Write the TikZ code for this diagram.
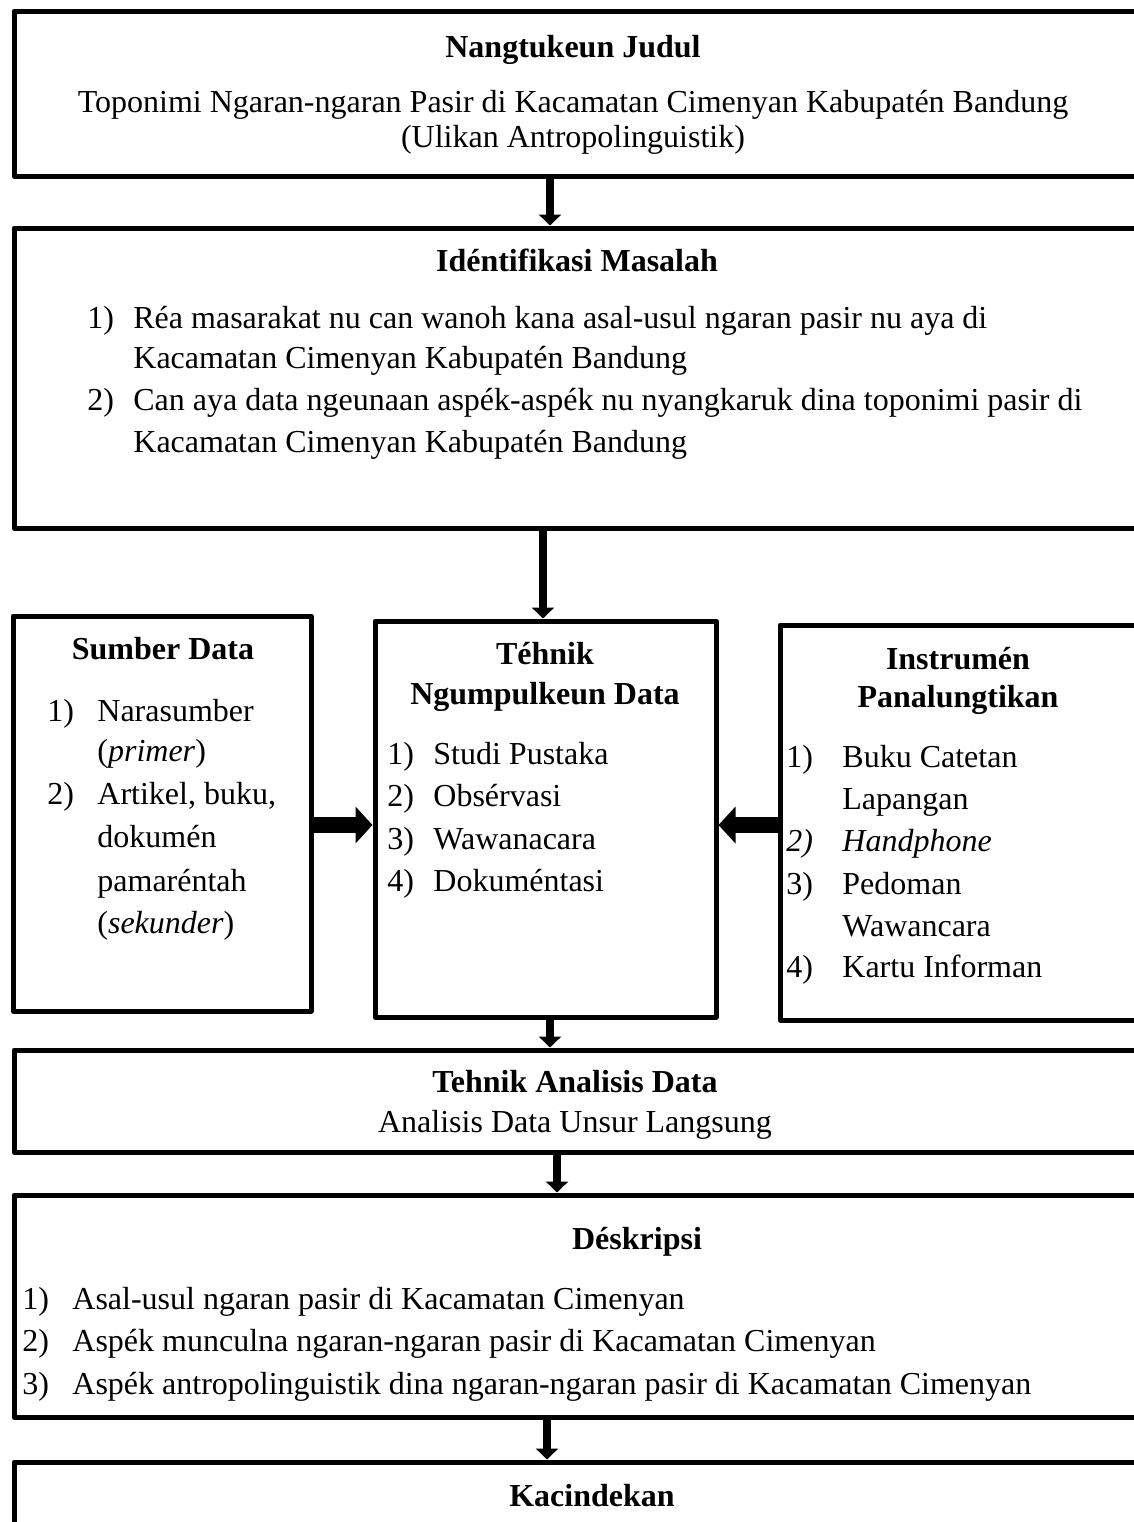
\documentclass[tikz,border=0pt]{standalone}
\usepackage{fontspec}
\setmainfont{Liberation Serif}
\usetikzlibrary{arrows.meta}
\usetikzlibrary{fit}

\begin{document}
\begin{tikzpicture}[x=0.5pt,y=-0.5pt,
    kotak/.style={draw, line width=2.5pt, line join=round, inner sep=0pt},
    teks/.style={anchor=base, inner sep=0pt, font=\fontsize{16}{19}\selectfont},
    jejer/.style={teks, font=\fontsize{16}{19}\selectfont\bfseries},
    kenca/.style={teks, anchor=base west},
    panah/.style={line width=4pt, -{Triangle[width=11pt,length=5.5pt]}},
    panahgede/.style={line width=8pt, -{Triangle[width=18pt,length=8.5pt]}}]
    \useasboundingbox (0,0) rectangle (1134,1522);
    \clip (0,0) rectangle (1134,1522);
    % kotak-kotak
    \node[kotak, fit={(14,11) (1150,176)}] (judul) {};
    \node[kotak, fit={(14,228) (1150,528)}] (masalah) {};
    \node[kotak, fit={(13,616) (311,1011)}] (sumber) {};
    \node[kotak, fit={(375,621) (716,1017)}] (tehnik) {};
    \node[kotak, fit={(780,625) (1150,1020)}] (instrumen) {};
    \node[kotak, fit={(14,1050) (1150,1152)}] (analisis) {};
    \node[kotak, fit={(14,1195) (1150,1417)}] (deskripsi) {};
    \node[kotak, fit={(14,1462) (1150,1560)}] (kacindekan) {};
    % panah
    \draw[panah] (550,0 |- judul.south) -- (550,0 |- masalah.north);
    \draw[panah] (543,0 |- masalah.south) -- (543,0 |- tehnik.north);
    \draw[panahgede] (sumber.east |- 0,825) -- (tehnik.west |- 0,825);
    \draw[panahgede] (instrumen.west |- 0,825) -- (tehnik.east |- 0,825);
    \draw[panah] (550,0 |- tehnik.south) -- (550,0 |- analisis.north);
    \draw[panah] (557,0 |- analisis.south) -- (557,0 |- deskripsi.north);
    \draw[panah] (547,0 |- deskripsi.south) -- (547,0 |- kacindekan.north);
    % Nangtukeun Judul
    \node[jejer] (judul-t) at (573,57) {Nangtukeun Judul};
    \node[teks] (judul-1) at (573,112) {Toponimi Ngaran-ngaran Pasir di Kacamatan Cimenyan Kabupatén Bandung};
    \node[teks] (judul-2) at (573,147) {(Ulikan Antropolinguistik)};
    % Identifikasi Masalah
    \node[jejer] (masalah-t) at (577,271) {Idéntifikasi Masalah};
    \foreach \nomer/\y/\isi in
    {
      1)/328/Réa masarakat nu can wanoh kana asal-usul ngaran pasir nu aya di,
      /368/Kacamatan Cimenyan Kabupatén Bandung,
      2)/410/Can aya data ngeunaan aspék-aspék nu nyangkaruk dina toponimi pasir di,
      /452/Kacamatan Cimenyan Kabupatén Bandung
    }
    {
      \node[kenca] (masalah-n\y) at (87,\y) {\nomer};
      \node[kenca] (masalah-\y) at (133,\y) {\isi};
    };
    % Sumber Data
    \node[jejer] (sumber-t) at (163,659) {Sumber Data};
    \foreach \nomer/\y/\isi in
    {
      1)/721/Narasumber,
      /761/(\textit{primer}),
      2)/804/{Artikel, buku,},
      /847/dokumén,
      /891/pamaréntah,
      /933/(\textit{sekunder})
    }
    {
      \node[kenca] (sumber-n\y) at (47,\y) {\nomer};
      \node[kenca] (sumber-\y) at (97,\y) {\isi};
    };
    % Tehnik Ngumpulkeun Data
    \node[jejer] (tehnik-t1) at (545,664) {Téhnik};
    \node[jejer] (tehnik-t2) at (545,704) {Ngumpulkeun Data};
    \foreach \nomer/\y/\isi in
    {
      1)/764/Studi Pustaka,
      2)/806/Obsérvasi,
      3)/849/Wawanacara,
      4)/891/Dokuméntasi
    }
    {
      \node[kenca] (tehnik-n\y) at (387,\y) {\nomer};
      \node[kenca] (tehnik-\y) at (433,\y) {\isi};
    };
    % Instrumen Panalungtikan
    \node[jejer] (instrumen-t1) at (958,669) {Instrumén};
    \node[jejer] (instrumen-t2) at (958,707) {Panalungtikan};
    \foreach \nomer/\y/\isi in
    {
      1)/767/Buku Catetan,
      /809/Lapangan,
      \textit{2)}/851/\textit{Handphone},
      3)/894/Pedoman,
      /936/Wawancara,
      4)/977/Kartu Informan
    }
    {
      \node[kenca] (instrumen-n\y) at (786,\y) {\nomer};
      \node[kenca] (instrumen-\y) at (842,\y) {\isi};
    };
    % Tehnik Analisis Data
    \node[jejer] (analisis-t) at (575,1092) {Tehnik Analisis Data};
    \node[teks] (analisis-1) at (575,1132) {Analisis Data Unsur Langsung};
    % Deskripsi
    \node[jejer] (deskripsi-t) at (637,1249) {Déskripsi};
    \foreach \nomer/\y/\isi in
    {
      1)/1309/Asal-usul ngaran pasir di Kacamatan Cimenyan,
      2)/1351/Aspék munculna ngaran-ngaran pasir di Kacamatan Cimenyan,
      3)/1394/Aspék antropolinguistik dina ngaran-ngaran pasir di Kacamatan Cimenyan
    }
    {
      \node[kenca] (deskripsi-n\y) at (22,\y) {\nomer};
      \node[kenca] (deskripsi-\y) at (72,\y) {\isi};
    };
    % Kacindekan
    \node[jejer] (kacindekan-t) at (592,1506) {Kacindekan};
\end{tikzpicture}
\end{document}
